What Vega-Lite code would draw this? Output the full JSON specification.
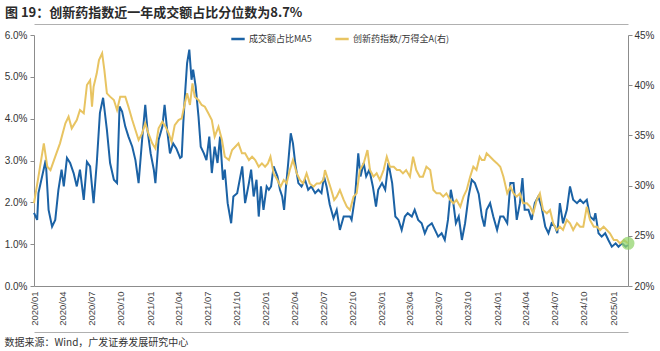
{
  "$schema": "https://vega.github.io/schema/vega-lite/v6.json",
  "autosize": "none",
  "width": 594,
  "height": 251,
  "padding": {"left": 34, "top": 35, "right": 32, "bottom": 65},
  "background": "white",
  "title": {
    "text": "图 19：创新药指数近一年成交额占比分位数为8.7%",
    "anchor": "start",
    "frame": "group",
    "dx": -29,
    "offset": 4,
    "font": "Noto Sans CJK SC",
    "fontSize": 13,
    "fontWeight": "bold",
    "color": "#2b2b2b"
  },
  "config": {
    "view": {"stroke": null},
    "axis": {
      "grid": false,
      "domainColor": "#8c8c8c",
      "tickColor": "#8c8c8c",
      "labelColor": "#333333",
      "labelFont": "Liberation Sans",
      "labelFontSize": 10,
      "tickSize": 4
    },
    "legend": {"labelFont": "Noto Sans CJK SC", "labelFontSize": 9, "labelColor": "#333333"}
  },
  "datasets": {
    "blue": [
      {"d":"2020-01-01","v":1.75},{"d":"2020-01-11","v":1.58},{"d":"2020-01-15","v":2.22},{"d":"2020-02-07","v":3.01},
      {"d":"2020-02-16","v":1.82},{"d":"2020-02-27","v":1.42},{"d":"2020-03-08","v":1.58},{"d":"2020-03-18","v":2.3},
      {"d":"2020-03-28","v":2.78},{"d":"2020-04-04","v":2.38},{"d":"2020-04-14","v":3.06},{"d":"2020-04-24","v":2.94},
      {"d":"2020-05-05","v":2.7},{"d":"2020-05-15","v":2.38},{"d":"2020-05-25","v":2.78},{"d":"2020-06-06","v":2.06},
      {"d":"2020-06-16","v":2.97},{"d":"2020-06-26","v":2.86},{"d":"2020-07-07","v":1.98},{"d":"2020-07-17","v":2.94},
      {"d":"2020-07-27","v":4.14},{"d":"2020-08-06","v":4.5},{"d":"2020-08-18","v":3.73},{"d":"2020-08-28","v":2.94},
      {"d":"2020-09-09","v":2.54},{"d":"2020-09-19","v":2.46},{"d":"2020-09-27","v":4.29},{"d":"2020-10-05","v":4.17},
      {"d":"2020-10-15","v":3.81},{"d":"2020-10-25","v":3.57},{"d":"2020-11-06","v":3.33},{"d":"2020-11-16","v":3.01},
      {"d":"2020-11-26","v":2.46},{"d":"2020-12-07","v":3.49},{"d":"2020-12-17","v":4.33},{"d":"2020-12-24","v":3.73},
      {"d":"2021-01-03","v":3.17},{"d":"2021-01-13","v":2.78},{"d":"2021-01-18","v":2.46},{"d":"2021-01-28","v":3.49},
      {"d":"2021-02-09","v":3.81},{"d":"2021-02-16","v":4.33},{"d":"2021-02-24","v":3.73},{"d":"2021-03-05","v":3.17},
      {"d":"2021-03-15","v":3.41},{"d":"2021-03-25","v":3.29},{"d":"2021-04-06","v":3.06},{"d":"2021-04-11","v":3.09},
      {"d":"2021-04-16","v":3.89},{"d":"2021-04-21","v":4.53},{"d":"2021-04-28","v":5.33},{"d":"2021-05-05","v":5.65},
      {"d":"2021-05-12","v":4.93},{"d":"2021-05-17","v":5.17},{"d":"2021-05-25","v":4.77},{"d":"2021-06-03","v":4.05},
      {"d":"2021-06-10","v":3.33},{"d":"2021-06-20","v":3.17},{"d":"2021-06-28","v":3.01},{"d":"2021-07-07","v":3.57},
      {"d":"2021-07-15","v":2.7},{"d":"2021-07-24","v":3.33},{"d":"2021-08-02","v":2.94},{"d":"2021-08-10","v":3.57},
      {"d":"2021-08-19","v":2.54},{"d":"2021-08-25","v":2.78},{"d":"2021-09-03","v":1.98},{"d":"2021-09-14","v":1.5},
      {"d":"2021-09-21","v":2.14},{"d":"2021-10-03","v":2.22},{"d":"2021-10-13","v":2.62},{"d":"2021-10-19","v":2.86},
      {"d":"2021-10-28","v":1.98},{"d":"2021-11-09","v":2.46},{"d":"2021-11-16","v":2.78},{"d":"2021-11-24","v":2.14},
      {"d":"2021-12-03","v":2.54},{"d":"2021-12-10","v":1.66},{"d":"2021-12-17","v":2.38},{"d":"2021-12-25","v":1.82},
      {"d":"2022-01-04","v":2.38},{"d":"2022-01-11","v":2.3},{"d":"2022-01-18","v":2.38},{"d":"2022-01-26","v":2.86},
      {"d":"2022-02-07","v":2.62},{"d":"2022-02-15","v":2.3},{"d":"2022-02-22","v":2.14},{"d":"2022-02-28","v":1.82},
      {"d":"2022-03-06","v":2.38},{"d":"2022-03-13","v":2.94},{"d":"2022-03-21","v":3.65},{"d":"2022-03-28","v":3.41},
      {"d":"2022-04-04","v":2.94},{"d":"2022-04-14","v":2.46},{"d":"2022-04-24","v":2.38},{"d":"2022-05-05","v":2.54},
      {"d":"2022-05-15","v":2.3},{"d":"2022-05-25","v":2.38},{"d":"2022-06-06","v":2.22},{"d":"2022-06-16","v":2.3},
      {"d":"2022-06-26","v":2.22},{"d":"2022-07-04","v":2.62},{"d":"2022-07-12","v":2.38},{"d":"2022-07-22","v":1.95},
      {"d":"2022-08-03","v":1.62},{"d":"2022-08-13","v":1.82},{"d":"2022-08-23","v":1.34},{"d":"2022-09-04","v":1.66},
      {"d":"2022-09-14","v":1.66},{"d":"2022-09-24","v":1.66},{"d":"2022-09-29","v":1.58},{"d":"2022-10-10","v":2.14},
      {"d":"2022-10-20","v":3.17},{"d":"2022-10-27","v":2.62},{"d":"2022-11-06","v":2.94},{"d":"2022-11-14","v":2.62},
      {"d":"2022-11-24","v":2.78},{"d":"2022-12-05","v":2.38},{"d":"2022-12-15","v":1.9},{"d":"2022-12-22","v":2.3},
      {"d":"2023-01-03","v":2.46},{"d":"2023-01-13","v":2.3},{"d":"2023-01-23","v":2.94},{"d":"2023-02-04","v":2.46},
      {"d":"2023-02-14","v":1.66},{"d":"2023-02-24","v":1.58},{"d":"2023-03-06","v":1.34},{"d":"2023-03-16","v":1.66},
      {"d":"2023-03-25","v":1.74},{"d":"2023-04-07","v":1.66},{"d":"2023-04-16","v":1.82},{"d":"2023-04-27","v":1.58},
      {"d":"2023-05-08","v":1.5},{"d":"2023-05-18","v":1.26},{"d":"2023-05-27","v":1.42},{"d":"2023-06-09","v":1.5},
      {"d":"2023-06-19","v":1.34},{"d":"2023-06-29","v":1.18},{"d":"2023-07-10","v":1.26},{"d":"2023-07-20","v":1.1},
      {"d":"2023-07-30","v":1.58},{"d":"2023-08-08","v":2.3},{"d":"2023-08-16","v":1.98},{"d":"2023-08-24","v":1.5},
      {"d":"2023-09-02","v":1.66},{"d":"2023-09-12","v":1.1},{"d":"2023-09-22","v":1.5},{"d":"2023-10-03","v":2.14},
      {"d":"2023-10-13","v":2.54},{"d":"2023-10-23","v":2.46},{"d":"2023-11-04","v":2.2},{"d":"2023-11-14","v":1.66},
      {"d":"2023-11-22","v":1.42},{"d":"2023-11-29","v":1.82},{"d":"2023-12-10","v":1.98},{"d":"2023-12-20","v":1.66},
      {"d":"2024-01-01","v":1.34},{"d":"2024-01-11","v":1.66},{"d":"2024-01-21","v":1.66},{"d":"2024-02-02","v":1.5},
      {"d":"2024-02-12","v":2.46},{"d":"2024-02-22","v":2.46},{"d":"2024-03-03","v":1.58},{"d":"2024-03-13","v":1.98},
      {"d":"2024-03-21","v":2.58},{"d":"2024-03-28","v":1.82},{"d":"2024-04-09","v":1.82},{"d":"2024-04-19","v":1.58},
      {"d":"2024-04-29","v":1.98},{"d":"2024-05-10","v":2.14},{"d":"2024-05-20","v":1.9},{"d":"2024-06-01","v":1.42},
      {"d":"2024-06-11","v":1.26},{"d":"2024-06-21","v":1.5},{"d":"2024-07-02","v":1.42},{"d":"2024-07-09","v":1.26},
      {"d":"2024-07-17","v":1.98},{"d":"2024-07-27","v":1.5},{"d":"2024-08-08","v":1.82},{"d":"2024-08-18","v":2.38},
      {"d":"2024-08-28","v":2.06},{"d":"2024-09-09","v":1.98},{"d":"2024-09-19","v":2.06},{"d":"2024-09-29","v":1.98},
      {"d":"2024-10-10","v":2.06},{"d":"2024-10-20","v":1.66},{"d":"2024-11-01","v":1.58},{"d":"2024-11-06","v":1.74},
      {"d":"2024-11-16","v":1.26},{"d":"2024-11-26","v":1.18},{"d":"2024-12-07","v":1.26},{"d":"2024-12-17","v":1.1},
      {"d":"2024-12-28","v":0.94},{"d":"2025-01-09","v":1.02},{"d":"2025-01-18","v":0.94},{"d":"2025-01-29","v":1.02},
      {"d":"2025-02-10","v":0.94},{"d":"2025-02-17","v":0.98}
    ],
    "gold": [
      {"d":"2020-01-01","r":28.24},{"d":"2020-01-15","r":30.89},{"d":"2020-02-01","r":34.21},{"d":"2020-02-12","r":31.88},
      {"d":"2020-02-22","r":31.55},{"d":"2020-03-08","r":32.88},{"d":"2020-03-23","r":34.21},{"d":"2020-04-09","r":36.2},
      {"d":"2020-04-19","r":36.86},{"d":"2020-04-29","r":35.7},{"d":"2020-05-15","r":36.53},{"d":"2020-05-25","r":37.53},
      {"d":"2020-06-06","r":37.2},{"d":"2020-06-16","r":40.02},{"d":"2020-06-26","r":40.5},{"d":"2020-07-02","r":37.86},
      {"d":"2020-07-07","r":39.85},{"d":"2020-07-17","r":41.18},{"d":"2020-07-24","r":42.5},{"d":"2020-08-03","r":43.17},
      {"d":"2020-08-10","r":41.5},{"d":"2020-08-18","r":39.19},{"d":"2020-08-28","r":38.86},{"d":"2020-09-09","r":38.53},
      {"d":"2020-09-19","r":37.53},{"d":"2020-09-29","r":38.86},{"d":"2020-10-15","r":38.86},{"d":"2020-10-25","r":37.86},
      {"d":"2020-11-06","r":36.53},{"d":"2020-11-16","r":35.54},{"d":"2020-11-26","r":34.54},{"d":"2020-12-07","r":35.2},
      {"d":"2020-12-17","r":36.2},{"d":"2020-12-27","r":35.2},{"d":"2021-01-08","r":34.21},{"d":"2021-01-18","r":33.7},
      {"d":"2021-01-28","r":35.7},{"d":"2021-02-09","r":36.36},{"d":"2021-02-19","r":35.87},{"d":"2021-03-01","r":35.2},
      {"d":"2021-03-10","r":34.37},{"d":"2021-03-20","r":36.03},{"d":"2021-04-01","r":36.53},{"d":"2021-04-11","r":36.7},
      {"d":"2021-04-21","r":38.2},{"d":"2021-04-28","r":39.19},{"d":"2021-05-07","r":38.03},{"d":"2021-05-15","r":40.19},
      {"d":"2021-05-22","r":38.86},{"d":"2021-06-03","r":38.53},{"d":"2021-06-13","r":38.03},{"d":"2021-06-23","r":37.86},
      {"d":"2021-07-04","r":37.2},{"d":"2021-07-15","r":36.53},{"d":"2021-07-24","r":34.87},{"d":"2021-08-05","r":35.87},
      {"d":"2021-08-16","r":34.54},{"d":"2021-08-25","r":32.88},{"d":"2021-09-07","r":32.55},{"d":"2021-09-17","r":33.54},
      {"d":"2021-09-27","r":33.87},{"d":"2021-10-07","r":34.21},{"d":"2021-10-18","r":33.21},{"d":"2021-10-28","r":33.21},
      {"d":"2021-11-09","r":32.55},{"d":"2021-11-19","r":32.88},{"d":"2021-11-29","r":32.55},{"d":"2021-12-10","r":31.88},
      {"d":"2021-12-20","r":32.21},{"d":"2021-12-30","r":31.88},{"d":"2022-01-08","r":32.21},{"d":"2022-01-16","r":32.88},
      {"d":"2022-01-26","r":31.21},{"d":"2022-02-07","r":30.56},{"d":"2022-02-17","r":29.89},{"d":"2022-02-27","r":30.56},
      {"d":"2022-03-08","r":30.22},{"d":"2022-03-18","r":31.55},{"d":"2022-03-28","r":32.55},{"d":"2022-04-09","r":31.21},
      {"d":"2022-04-19","r":30.56},{"d":"2022-04-29","r":30.22},{"d":"2022-05-10","r":31.21},{"d":"2022-05-20","r":30.22},
      {"d":"2022-06-01","r":29.89},{"d":"2022-06-11","r":30.22},{"d":"2022-06-21","r":30.22},{"d":"2022-07-02","r":30.56},
      {"d":"2022-07-07","r":31.55},{"d":"2022-07-17","r":30.56},{"d":"2022-07-27","r":29.56},{"d":"2022-08-05","r":28.57},
      {"d":"2022-08-13","r":28.9},{"d":"2022-08-23","r":29.56},{"d":"2022-09-04","r":28.57},{"d":"2022-09-14","r":27.9},
      {"d":"2022-09-24","r":27.57},{"d":"2022-10-05","r":28.9},{"d":"2022-10-15","r":29.23},{"d":"2022-10-25","r":31.55},
      {"d":"2022-11-06","r":32.21},{"d":"2022-11-18","r":33.54},{"d":"2022-11-26","r":31.55},{"d":"2022-12-07","r":30.89},
      {"d":"2022-12-17","r":31.22},{"d":"2022-12-27","r":30.56},{"d":"2023-01-08","r":31.55},{"d":"2023-01-18","r":32.88},
      {"d":"2023-01-28","r":31.88},{"d":"2023-02-09","r":31.88},{"d":"2023-02-19","r":31.55},{"d":"2023-02-28","r":31.55},
      {"d":"2023-03-10","r":31.22},{"d":"2023-03-20","r":31.55},{"d":"2023-04-01","r":30.89},{"d":"2023-04-11","r":32.88},
      {"d":"2023-04-21","r":31.55},{"d":"2023-05-02","r":30.89},{"d":"2023-05-12","r":30.89},{"d":"2023-05-23","r":31.88},
      {"d":"2023-06-04","r":31.55},{"d":"2023-06-14","r":29.56},{"d":"2023-06-24","r":29.23},{"d":"2023-07-05","r":29.23},
      {"d":"2023-07-15","r":28.9},{"d":"2023-07-25","r":29.23},{"d":"2023-08-06","r":28.57},{"d":"2023-08-16","r":28.24},
      {"d":"2023-08-26","r":28.57},{"d":"2023-09-07","r":27.9},{"d":"2023-09-17","r":28.9},{"d":"2023-09-27","r":29.56},
      {"d":"2023-10-08","r":30.89},{"d":"2023-10-18","r":31.88},{"d":"2023-10-28","r":31.55},{"d":"2023-11-07","r":32.88},
      {"d":"2023-11-14","r":32.55},{"d":"2023-11-22","r":32.55},{"d":"2023-11-29","r":33.21},{"d":"2023-12-10","r":32.88},
      {"d":"2023-12-20","r":32.55},{"d":"2024-01-01","r":32.21},{"d":"2024-01-11","r":31.88},{"d":"2024-01-21","r":30.89},
      {"d":"2024-02-02","r":29.23},{"d":"2024-02-12","r":29.89},{"d":"2024-02-22","r":29.23},{"d":"2024-03-03","r":28.9},
      {"d":"2024-03-13","r":29.23},{"d":"2024-03-23","r":28.24},{"d":"2024-04-04","r":28.24},{"d":"2024-04-14","r":27.9},
      {"d":"2024-04-24","r":27.24},{"d":"2024-05-05","r":28.57},{"d":"2024-05-15","r":29.23},{"d":"2024-05-25","r":27.57},
      {"d":"2024-06-06","r":27.24},{"d":"2024-06-16","r":27.57},{"d":"2024-06-26","r":26.25},{"d":"2024-07-07","r":25.58},
      {"d":"2024-07-17","r":25.91},{"d":"2024-07-27","r":25.58},{"d":"2024-08-08","r":26.58},{"d":"2024-08-18","r":26.25},
      {"d":"2024-08-28","r":25.58},{"d":"2024-09-09","r":26.25},{"d":"2024-09-19","r":25.91},{"d":"2024-09-29","r":25.91},
      {"d":"2024-10-10","r":27.9},{"d":"2024-10-20","r":26.58},{"d":"2024-11-01","r":25.91},{"d":"2024-11-11","r":25.91},
      {"d":"2024-11-21","r":25.58},{"d":"2024-12-02","r":25.91},{"d":"2024-12-12","r":25.58},{"d":"2024-12-22","r":25.25},
      {"d":"2025-01-03","r":24.58},{"d":"2025-01-13","r":24.58},{"d":"2025-01-23","r":24.25},{"d":"2025-02-04","r":24.58},
      {"d":"2025-02-17","r":24.25}
    ],
    "last": [{"d":"2025-02-17","r":24.25}]
  },
  "layer": [
    {
      "data": {"name": "blue"},
      "mark": {"type": "line", "strokeWidth": 2, "interpolate": "linear"},
      "encoding": {
        "x": {
          "field": "d", "type": "temporal",
          "scale": {"type": "utc", "domain": [{"year": 2020, "month": 1, "date": 1, "utc": true}, {"year": 2025, "month": 2, "date": 17, "utc": true}]},
          "axis": {
            "orient": "bottom",
            "title": null,
            "labelExpr": "utcFormat(datum.value, '%Y/%m')",
            "labelAngle": 270,
            "labelAlign": "right",
            "labelBaseline": "middle",
            "labelFontSize": 9.5,
            "labelColor": "#444444",
            "ticks": false,
            "labelPadding": 5,
            "values": [
              {"year":2020,"month":1,"date":1,"utc":true},{"year":2020,"month":4,"date":1,"utc":true},{"year":2020,"month":7,"date":1,"utc":true},{"year":2020,"month":10,"date":1,"utc":true},
              {"year":2021,"month":1,"date":1,"utc":true},{"year":2021,"month":4,"date":1,"utc":true},{"year":2021,"month":7,"date":1,"utc":true},{"year":2021,"month":10,"date":1,"utc":true},
              {"year":2022,"month":1,"date":1,"utc":true},{"year":2022,"month":4,"date":1,"utc":true},{"year":2022,"month":7,"date":1,"utc":true},{"year":2022,"month":10,"date":1,"utc":true},
              {"year":2023,"month":1,"date":1,"utc":true},{"year":2023,"month":4,"date":1,"utc":true},{"year":2023,"month":7,"date":1,"utc":true},{"year":2023,"month":10,"date":1,"utc":true},
              {"year":2024,"month":1,"date":1,"utc":true},{"year":2024,"month":4,"date":1,"utc":true},{"year":2024,"month":7,"date":1,"utc":true},{"year":2024,"month":10,"date":1,"utc":true},
              {"year":2025,"month":1,"date":1,"utc":true}
            ]
          }
        },
        "y": {
          "field": "v", "type": "quantitative",
          "scale": {"domain": [0, 6], "nice": false, "zero": false},
          "axis": {"title": null, "values": [0,1,2,3,4,5,6], "labelExpr": "format(datum.value, '.1f') + '%'", "labelPadding": 3}
        },
        "color": {
          "datum": "成交额占比MA5",
          "type": "nominal",
          "scale": {"domain": ["成交额占比MA5", "创新药指数/万得全A(右)"], "range": ["#1b62a5", "#e8c462"]},
          "legend": {
            "title": null,
            "orient": "none",
            "direction": "horizontal",
            "legendX": 196,
            "legendY": -4,
            "symbolType": "stroke",
            "symbolStrokeWidth": 2.5,
            "symbolSize": 180,
            "columnPadding": 18,
            "labelOffset": 3
          }
        }
      }
    },
    {
      "data": {"name": "gold"},
      "mark": {"type": "line", "strokeWidth": 2, "interpolate": "linear"},
      "encoding": {
        "x": {
          "field": "d", "type": "temporal",
          "scale": {"type": "utc", "domain": [{"year": 2020, "month": 1, "date": 1, "utc": true}, {"year": 2025, "month": 2, "date": 17, "utc": true}]},
          "axis": {"orient": "top", "title": null, "labels": false, "ticks": false, "offset": 11, "domainColor": "#b0b0b0"}
        },
        "y": {
          "field": "r", "type": "quantitative",
          "scale": {"domain": [20, 45], "nice": false, "zero": false},
          "axis": {"orient": "right", "title": null, "values": [20,25,30,35,40,45], "labelExpr": "datum.value + '%'", "labelPadding": 2}
        },
        "color": {"datum": "创新药指数/万得全A(右)", "type": "nominal"}
      }
    },
    {
      "data": {"name": "last"},
      "mark": {"type": "point", "filled": true, "size": 170, "color": "#93d46e", "opacity": 0.75},
      "encoding": {
        "x": {
          "field": "d", "type": "temporal",
          "scale": {"type": "utc", "domain": [{"year": 2020, "month": 1, "date": 1, "utc": true}, {"year": 2025, "month": 2, "date": 17, "utc": true}]},
          "axis": {
            "orient": "bottom", "labelExpr": "''", "ticks": false, "offset": 46, "domain": true, "domainColor": "#b0b0b0", "domainWidth": 1,
            "values": [{"year":2022,"month":7,"date":1,"utc":true}],
            "title": "数据来源：Wind，广发证券发展研究中心",
            "titleFont": "Noto Sans CJK SC", "titleFontSize": 10, "titleFontWeight": "normal", "titleColor": "#333333",
            "titleX": -30, "titleY": 5, "titleAlign": "left", "titleAnchor": "start", "titleBaseline": "top"
          }
        },
        "y": {
          "field": "r", "type": "quantitative",
          "scale": {"domain": [20, 45], "nice": false, "zero": false},
          "axis": null
        }
      }
    }
  ],
  "resolve": {"scale": {"x": "independent", "y": "independent"}, "axis": {"x": "independent"}}
}
